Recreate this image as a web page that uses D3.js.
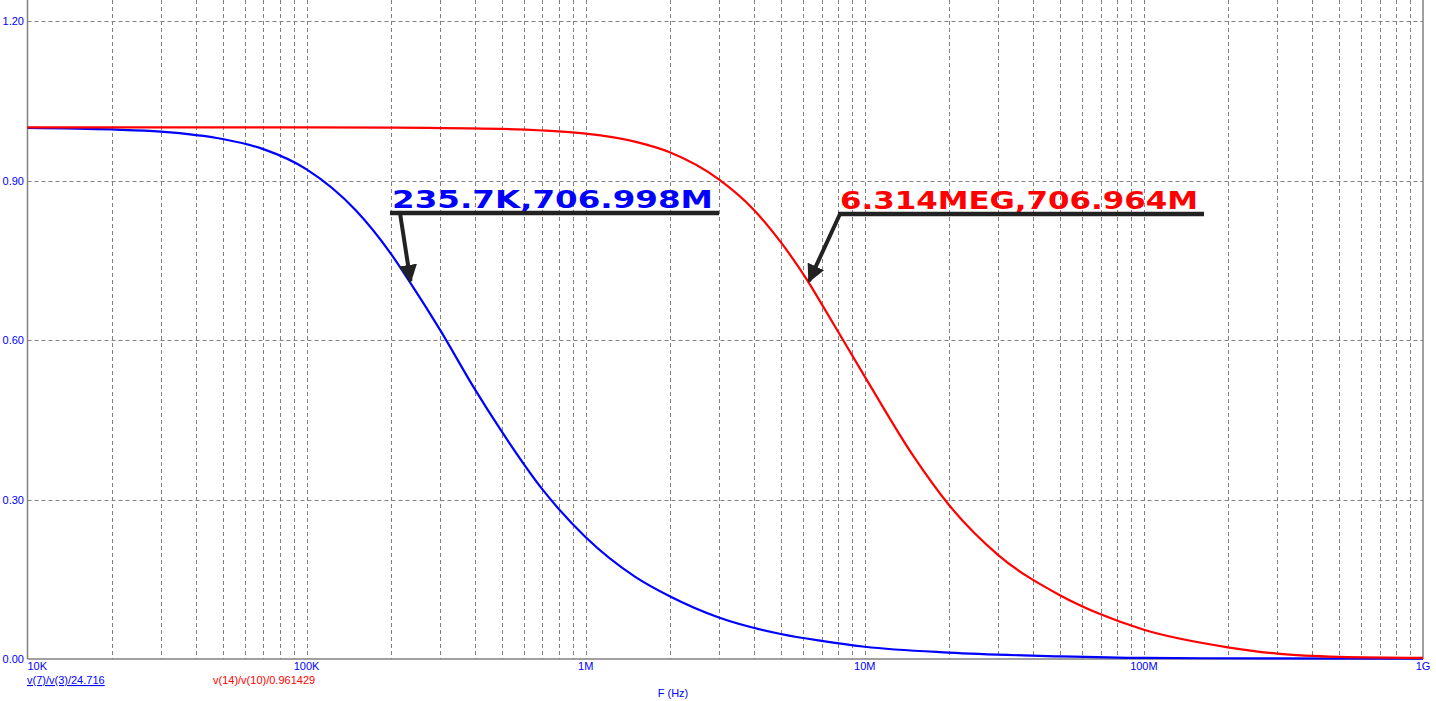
<!DOCTYPE html>
<html><head><meta charset="utf-8">
<script src="https://cdn.jsdelivr.net/npm/d3@7"></script>
<style>body{margin:0;background:#fff}svg{display:block}</style>
</head><body>
<svg id="c" width="1436" height="701"></svg>
<script>
// Frequencies (Hz) and normalized magnitudes
const blueFreq = [1e4,2e4,3e4,5e4,7e4,1e5,1.5e5,2e5,2.357e5,3e5,4e5,5e5,7e5,1e6,1.5e6,2e6,3e6,5e6,7e6,1e7,2e7,5e7,1e8,3e8,1e9];
const blueVal  = [0.999,0.996,0.992,0.978,0.959,0.921,0.844,0.763,0.707,0.620,0.508,0.428,0.319,0.229,0.155,0.118,0.078,0.047,0.034,0.023,0.012,0.005,0.002,0.001,0.0005];
const redFreq  = [1e4,1e5,2e5,5e5,7e5,1e6,1.5e6,2e6,3e6,4e6,5e6,6.314e6,7e6,1e7,1.5e7,2e7,3e7,5e7,7e7,1e8,2e8,3e8,5e8,1e9];
const redVal   = [1.0,1.0,0.9995,0.997,0.994,0.988,0.973,0.953,0.902,0.845,0.784,0.707,0.668,0.531,0.380,0.290,0.196,0.120,0.084,0.055,0.022,0.010,0.004,0.002];
const yTicks = [0, 0.3, 0.6, 0.9, 1.2];
const xTickVals = [1e4,1e5,1e6,1e7,1e8,1e9];
const xTickLabels = ["10K","100K","1M","10M","100M","1G"];
const legendLabels = ["v(7)/v(3)/24.716","v(14)/v(10)/0.961429"];
const axisTitle = "F (Hz)";
const annotations = [
  {text:"235.7K,706.998M", f:2.357e5, v:0.707, color:"#0000ff"},
  {text:"6.314MEG,706.964M", f:6.314e6, v:0.707, color:"#ff0000"}
];

const svg = d3.select("#c");
const L = 27.5, R = 1423, B = 659, T = 21;
const x = d3.scaleLog().domain([1e4,1e9]).range([L,R]);
const y = d3.scaleLinear().domain([0,1.2]).range([B,T]);
const gridCol = "#808080";

// vertical grid (decades + minor)
const vg = [];
for (let d=1e4; d<1e9; d*=10) for (let k=1;k<10;k++) vg.push(d*k);
svg.append("g").selectAll("line").data(vg.filter(v=>v>1e4 && v<1e9)).join("line")
  .attr("x1",d=>Math.round(x(d))+0.5).attr("x2",d=>Math.round(x(d))+0.5)
  .attr("y1",0).attr("y2",B)
  .attr("stroke",gridCol).attr("stroke-width",1).attr("stroke-dasharray","4,3");
// horizontal grid
svg.append("g").selectAll("line").data(yTicks.filter(v=>v>0)).join("line")
  .attr("x1",L).attr("x2",R)
  .attr("y1",d=>Math.round(y(d))+0.5).attr("y2",d=>Math.round(y(d))+0.5)
  .attr("stroke",gridCol).attr("stroke-width",1).attr("stroke-dasharray","4,3");

// frame
svg.append("line").attr("x1",L).attr("x2",L).attr("y1",0).attr("y2",B).attr("stroke",gridCol).attr("stroke-width",1.5);
svg.append("line").attr("x1",R).attr("x2",R).attr("y1",0).attr("y2",B).attr("stroke",gridCol).attr("stroke-width",1.5);
svg.append("line").attr("x1",L).attr("x2",R).attr("y1",B).attr("y2",B).attr("stroke",gridCol).attr("stroke-width",1.5);

// y tick labels
svg.append("g").selectAll("text").data(yTicks).join("text")
  .attr("x",24).attr("y",d=>y(d)+4).attr("text-anchor","end")
  .attr("font-family","Arial, Liberation Sans, sans-serif").attr("font-size",11)
  .attr("fill","#0000ff").text(d=>d.toFixed(2));
// x tick labels
svg.append("g").selectAll("text").data(xTickVals).join("text")
  .attr("x",(d,i)=> i===0 ? L : x(d)).attr("y",670)
  .attr("text-anchor",(d,i)=> i===0 ? "start" : "middle")
  .attr("font-family","Arial, Liberation Sans, sans-serif").attr("font-size",11)
  .attr("fill","#0000ff").text((d,i)=>xTickLabels[i]);

// curves
const line = d3.line().x(d=>x(d[0])).y(d=>y(d[1])).curve(d3.curveMonotoneX);
svg.append("path").datum(blueFreq.map((f,i)=>[f,blueVal[i]]))
  .attr("d",line).attr("fill","none").attr("stroke","#0000ff").attr("stroke-width",2.2);
svg.append("path").datum(redFreq.map((f,i)=>[f,redVal[i]]))
  .attr("d",line).attr("fill","none").attr("stroke","#ff0000").attr("stroke-width",2.2);

// legend
svg.append("text").attr("x",27).attr("y",684).attr("font-family","Arial, Liberation Sans, sans-serif")
  .attr("font-size",11).attr("fill","#0000ff").attr("text-decoration","underline").text(legendLabels[0]);
svg.append("text").attr("x",213).attr("y",684).attr("font-family","Arial, Liberation Sans, sans-serif")
  .attr("font-size",11).attr("fill","#ff0000").text(legendLabels[1]);
svg.append("text").attr("x",673).attr("y",697).attr("text-anchor","middle").attr("font-family","Arial, Liberation Sans, sans-serif")
  .attr("font-size",11).attr("fill","#0000ff").text(axisTitle);

// annotations
const anno = [
  {ux1:390, ux2:719, uy:213, tx:392, tw:321, ax:400},
  {ux1:838, ux2:1204, uy:214, tx:840, tw:358, ax:840}
];
const defs = svg.append("defs");
defs.append("marker").attr("id","ah").attr("viewBox","0 0 10 10").attr("refX",9).attr("refY",5)
  .attr("markerWidth",4.5).attr("markerHeight",4.5).attr("orient","auto").attr("markerUnits","strokeWidth")
  .append("path").attr("d","M0,0 L10,5 L0,10 Z").attr("fill","#222");
annotations.forEach((a,i)=>{
  const p = anno[i];
  svg.append("text").attr("x",p.tx).attr("y",p.uy-5)
    .attr("font-family","DejaVu Sans, sans-serif").attr("font-weight","bold").attr("font-size",25)
    .attr("textLength",p.tw).attr("lengthAdjust","spacingAndGlyphs")
    .attr("fill",a.color).text(a.text);
  svg.append("line").attr("x1",p.ux1).attr("x2",p.ux2).attr("y1",p.uy).attr("y2",p.uy)
    .attr("stroke","#222").attr("stroke-width",4.5);
  svg.append("line").attr("x1",p.ax).attr("y1",p.uy).attr("x2",x(a.f)).attr("y2",y(a.v)-2)
    .attr("stroke","#222").attr("stroke-width",4).attr("marker-end","url(#ah)");
});
</script>
</body></html>
